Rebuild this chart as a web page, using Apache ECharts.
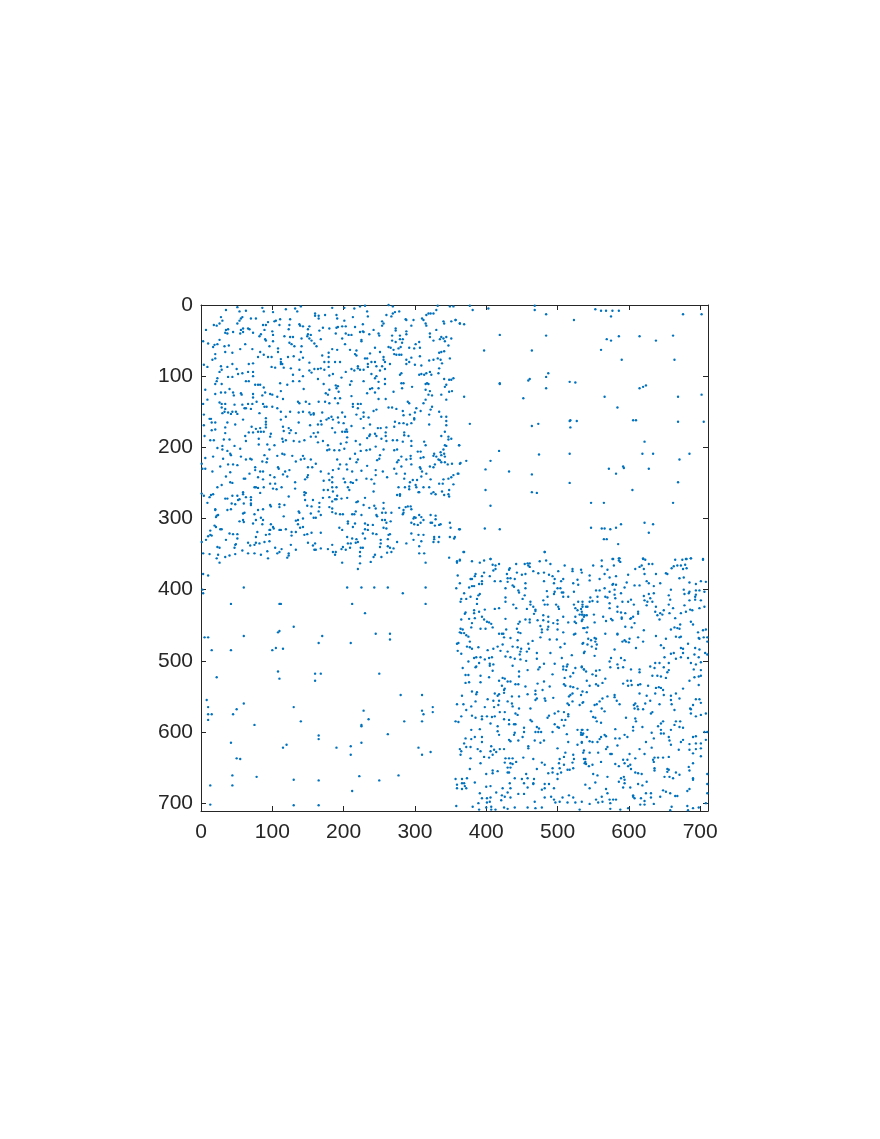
<!DOCTYPE html>
<html>
<head>
<meta charset="utf-8">
<style>
  html, body { margin: 0; padding: 0; background: #fff; }
  #chart { width: 880px; height: 1139px; }
</style>
<script src="https://cdn.jsdelivr.net/npm/echarts@6/dist/echarts.min.js"></script>
</head>
<body>
<div id="chart"></div>
<script>
// nonzero entries, [column, row]
var tickValues = [0, 100, 200, 300, 400, 500, 600, 700];

var spyTopLeftA = [[35,7],[51,3],[54,9],[63,8],[77,19],[70,19],[86,4],[88,9],[101,10],[119,6],[132,5],[135,9],[140,2],[160,12],[160,15],[165,15],[165,19],[174,14],[28,17],[30,22],[26,26],[22,29],[18,28],[7,35],[56,19],[58,17],[54,22],[51,26],[91,28],[87,28],[94,24],[103,23],[105,22],[111,20],[125,20],[110,28],[124,28],[138,27],[139,29],[143,30],[152,30],[150,34],[166,36],[171,32],[180,33],[35,35],[38,34],[37,40],[34,39],[45,38],[56,35],[59,33],[66,33],[68,34],[73,39],[59,38],[55,40],[89,35],[84,41],[82,44],[100,37],[101,42],[123,34],[150,41],[149,44],[154,42],[3,51],[10,54],[19,56],[17,59],[26,49],[23,55],[33,58],[39,57],[34,66],[44,67],[55,62],[62,55],[72,62],[90,48],[91,50],[96,58],[101,51],[108,61],[108,66],[83,66],[88,70],[80,73],[94,73],[99,73],[112,76],[112,80],[112,83],[124,53],[125,45],[129,45],[117,44],[131,58],[127,55],[141,47],[152,47],[155,50],[159,54],[162,58],[168,48],[141,58],[130,72],[140,66],[143,74],[152,81],[122,73],[170,71],[179,67],[179,73],[173,80],[179,80],[179,87],[20,69],[20,75],[16,77],[4,84],[9,87],[28,86],[29,91],[26,94],[37,87],[44,83],[38,101],[44,101],[23,103],[50,90],[52,97],[58,96],[67,83],[73,82],[66,94],[73,94],[73,100],[99,87],[104,88],[114,83],[116,88],[126,89],[138,77],[138,91],[143,100],[129,98],[152,92],[159,90],[164,90],[168,89],[173,91],[180,99],[164,104],[172,111],[155,95],[20,111],[22,107],[29,111],[40,118],[63,107],[67,107],[76,112],[80,112],[83,112],[88,116],[90,123],[112,121],[111,110],[121,112],[129,107],[138,107],[144,118],[20,125],[28,123],[34,123],[45,123],[46,127],[56,124],[57,126],[73,125],[73,130],[86,127],[97,125],[100,126],[107,129],[115,132],[6,119],[9,133],[3,139],[26,137],[29,139],[34,139],[29,144],[34,146],[47,140],[58,140],[61,145],[66,139],[78,136],[72,139],[87,139],[89,143],[100,143],[92,143],[107,145],[136,136],[138,138],[147,136],[152,139],[165,136],[175,124],[180,119],[178,126],[174,136],[180,138],[38,151],[30,152],[33,150],[44,150],[49,150],[51,153],[42,153],[70,146],[63,145],[4,154],[12,160],[14,160],[15,165],[20,165],[4,169],[82,152],[112,150],[119,157],[125,150],[137,151],[143,150],[152,151],[154,154],[158,152],[158,154],[170,151],[91,159],[91,164],[59,161],[48,168],[37,165],[34,172],[15,176],[20,175],[34,180],[71,171],[77,174],[83,173],[91,168],[91,172],[112,161],[137,165],[153,169],[164,168],[168,163],[169,168],[176,161],[179,159],[67,179],[73,179],[80,178],[84,178],[88,178],[98,181],[115,171],[116,177],[123,173],[126,176],[124,180],[133,180],[158,180],[164,179]];

var spyTopLeftB = [[184,4],[201,4],[215,5],[223,2],[230,1],[233,9],[190,14],[191,19],[213,17],[234,16],[260,14],[263,0],[269,2],[269,12],[267,16],[272,10],[278,9],[201,22],[190,32],[192,31],[198,30],[203,30],[216,31],[227,27],[242,35],[254,23],[256,26],[254,29],[287,20],[288,21],[298,21],[310,19],[312,21],[316,14],[322,12],[326,12],[315,26],[316,29],[319,12],[340,23],[341,26],[351,23],[357,21],[363,26],[349,2],[354,2],[332,1],[330,7],[203,40],[189,40],[223,38],[227,37],[228,38],[273,33],[273,36],[288,37],[295,29],[330,35],[207,42],[211,42],[236,41],[249,40],[250,43],[268,43],[279,43],[288,41],[321,40],[321,45],[326,50],[337,45],[344,45],[198,47],[225,49],[225,51],[202,55],[268,50],[279,48],[283,48],[273,52],[282,53],[306,52],[301,55],[335,48],[340,47],[342,51],[351,47],[347,57],[184,62],[191,63],[209,63],[218,64],[216,69],[218,71],[244,60],[251,66],[263,59],[266,60],[270,63],[280,59],[277,61],[292,60],[299,61],[307,60],[271,69],[274,70],[278,70],[281,70],[337,66],[341,65],[334,67],[349,75],[230,75],[233,75],[237,68],[256,73],[256,77],[258,80],[288,77],[295,74],[307,72],[292,80],[188,80],[195,80],[234,83],[234,87],[239,80],[244,80],[246,86],[254,86],[265,83],[288,83],[300,84],[309,85],[320,78],[326,77],[332,75],[336,77],[334,89],[338,82],[211,90],[215,92],[220,86],[223,91],[228,91],[220,89],[251,92],[258,90],[281,96],[279,98],[185,97],[197,102],[203,94],[239,97],[246,100],[244,103],[258,104],[316,96],[321,94],[306,98],[309,97],[313,98],[323,98],[333,96],[189,113],[192,114],[190,117],[193,122],[209,112],[211,107],[228,107],[249,108],[258,111],[281,110],[284,110],[282,117],[296,115],[315,111],[317,110],[319,111],[341,104],[348,105],[344,112],[342,115],[351,105],[354,103],[237,118],[240,117],[244,123],[233,124],[249,117],[211,128],[188,131],[195,131],[249,132],[259,132],[270,122],[290,136],[292,138],[315,119],[321,121],[319,126],[324,127],[315,133],[337,126],[344,133],[348,122],[352,121],[312,138],[192,138],[213,139],[220,139],[224,139],[213,143],[246,147],[242,149],[220,145],[263,144],[268,144],[274,146],[302,145],[308,149],[300,151],[324,143],[322,147],[283,149],[228,151],[334,150],[218,154],[228,157],[198,151],[202,157],[183,157],[192,158],[185,161],[193,165],[200,166],[224,160],[235,158],[284,155],[293,154],[299,159],[299,161],[320,154],[337,157],[344,157],[344,163],[272,164],[278,166],[284,166],[289,168],[295,166],[237,168],[211,170],[184,173],[188,179],[198,178],[202,178],[205,178],[204,175],[228,173],[248,173],[252,173],[260,172],[271,171],[320,168],[344,169],[342,178],[259,179],[285,179],[244,181],[237,182]];

var spyTopLeftC = [[5,184],[13,190],[18,190],[32,189],[40,189],[62,184],[63,191],[81,188],[81,196],[93,196],[97,185],[114,188],[115,192],[119,190],[130,191],[138,192],[145,190],[154,185],[161,185],[164,193],[171,191],[178,197],[177,204],[180,203],[23,201],[30,198],[30,203],[37,205],[47,198],[55,202],[41,209],[42,211],[6,215],[17,213],[31,216],[56,213],[63,217],[69,216],[71,217],[96,203],[103,197],[107,212],[114,209],[117,210],[128,212],[143,212],[89,211],[93,216],[86,220],[92,221],[133,220],[140,217],[145,216],[154,217],[161,223],[1,223],[2,230],[6,230],[16,234],[27,227],[38,224],[45,224],[51,225],[76,228],[76,232],[83,234],[87,234],[68,237],[41,235],[35,241],[108,228],[109,230],[124,232],[118,234],[115,238],[121,241],[150,228],[156,228],[168,234],[150,239],[149,242],[146,245],[60,244],[62,244],[80,242],[87,245],[97,239],[103,242],[97,251],[104,251],[41,249],[44,250],[23,256],[29,253],[75,256],[77,256],[80,257],[88,256],[101,258],[106,259],[113,256],[132,249],[132,258],[179,237],[180,246],[172,247],[172,260],[178,260],[1,265],[4,268],[12,270],[17,266],[14,267],[9,278],[34,272],[37,272],[44,268],[51,268],[54,273],[59,263],[59,266],[63,270],[70,270],[70,274],[70,279],[70,281],[52,274],[48,280],[60,279],[43,279],[83,264],[123,269],[145,263],[147,264],[145,267],[146,274],[157,274],[171,271],[180,270],[166,278],[20,287],[20,288],[37,288],[42,287],[61,292],[59,293],[97,281],[98,283],[110,280],[110,284],[117,281],[80,288],[87,287],[75,294],[149,282],[155,283],[166,284],[165,290],[180,284],[22,296],[24,295],[21,298],[116,297],[137,290],[138,292],[154,293],[168,295],[161,299],[158,299],[143,300],[136,302],[133,303],[59,302],[54,304],[60,305],[73,307],[77,302],[84,299],[87,302],[86,308],[98,308],[101,312],[102,314],[139,313],[143,312],[136,308],[19,310],[21,312],[13,317],[27,315],[29,315],[40,321],[45,322],[51,322],[13,323],[10,325],[15,324],[7,330],[1,333],[35,330],[51,328],[48,337],[49,336],[47,341],[79,319],[77,326],[96,316],[97,316],[91,323],[96,322],[110,316],[112,316],[119,315],[127,319],[133,319],[127,324],[145,323],[149,322],[155,320],[168,320],[96,332],[89,333],[82,335],[77,334],[75,337],[66,334],[69,338],[58,345],[126,337],[133,344],[150,334],[157,338],[160,335],[159,344],[161,344],[168,342],[178,343],[23,340],[26,341],[104,341],[113,343],[110,347],[107,349],[93,346],[3,349],[12,350],[24,351],[22,356],[34,354],[40,352],[48,350],[26,362],[66,349],[75,349],[84,351],[123,349],[123,352],[121,355],[94,356]];

var spyTopLeftD = [[205,186],[204,193],[196,195],[187,204],[194,204],[201,202],[191,217],[217,191],[223,196],[233,187],[236,184],[246,184],[253,188],[259,184],[260,191],[269,190],[275,190],[283,192],[285,183],[291,184],[295,191],[295,198],[313,192],[315,197],[337,184],[347,185],[347,189],[351,188],[362,197],[342,197],[344,198],[340,203],[336,207],[337,211],[232,204],[237,203],[245,199],[224,205],[216,209],[209,216],[204,224],[195,224],[220,217],[218,221],[247,218],[251,211],[250,216],[256,203],[271,204],[275,203],[281,213],[294,212],[294,216],[288,217],[277,218],[275,221],[271,230],[281,227],[295,224],[304,206],[308,206],[308,215],[312,214],[327,209],[330,213],[333,217],[335,218],[337,221],[326,212],[328,224],[341,209],[342,213],[342,221],[346,224],[352,223],[363,223],[185,232],[193,230],[205,231],[212,234],[225,233],[233,226],[245,232],[245,239],[255,234],[261,242],[274,237],[286,237],[285,244],[307,228],[308,230],[310,234],[309,241],[316,237],[321,227],[326,228],[184,242],[200,244],[184,249],[202,249],[210,249],[213,250],[218,246],[232,244],[239,245],[243,251],[190,256],[184,256],[185,262],[206,256],[208,260],[297,246],[293,249],[303,246],[322,245],[334,251],[339,251],[340,245],[351,242],[354,239],[361,237],[347,244],[354,252],[242,262],[277,256],[286,256],[292,255],[292,259],[301,253],[302,256],[305,263],[312,256],[320,256],[326,263],[323,265],[329,266],[338,262],[348,260],[341,267],[347,266],[348,269],[184,276],[188,273],[191,268],[190,273],[197,272],[205,271],[230,271],[218,277],[220,276],[275,267],[279,266],[279,268],[306,263],[228,281],[236,285],[243,282],[245,286],[256,278],[256,286],[184,286],[184,291],[189,293],[195,294],[199,294],[212,294],[215,294],[217,290],[225,295],[246,295],[247,297],[254,292],[259,292],[267,292],[278,285],[287,284],[290,283],[294,283],[295,287],[284,288],[284,292],[283,294],[299,298],[298,300],[301,299],[306,295],[309,298],[312,302],[308,306],[304,309],[299,308],[295,306],[322,295],[329,296],[329,301],[322,306],[324,306],[328,310],[334,309],[336,308],[349,306],[350,313],[362,315],[206,304],[206,307],[216,307],[213,312],[194,313],[198,316],[254,302],[258,302],[260,306],[266,304],[230,307],[234,309],[241,309],[230,315],[234,316],[241,321],[246,322],[256,313],[260,314],[295,321],[305,323],[312,323],[309,332],[227,321],[205,326],[212,328],[218,329],[220,333],[230,328],[217,334],[210,335],[206,335],[199,340],[197,343],[203,344],[209,341],[224,341],[227,341],[223,347],[223,353],[184,337],[185,347],[189,347],[188,351],[263,323],[265,322],[262,329],[252,330],[252,335],[251,340],[262,339],[265,341],[270,342],[267,347],[261,348],[275,333],[288,335],[298,330],[306,339],[327,326],[327,329],[334,326],[333,333],[326,333],[349,326],[356,326],[355,328],[244,351],[242,354],[238,361],[253,354],[306,349],[313,349],[198,362],[223,363],[220,371],[315,362],[348,355],[363,359],[359,362]];

var spyTopRight = [[377,1],[381,7],[403,5],[468,1],[468,7],[484,13],[553,6],[561,8],[568,8],[577,8],[586,8],[575,16],[676,13],[702,13],[523,21],[357,21],[363,26],[369,27],[419,42],[484,43],[569,48],[575,50],[586,44],[615,44],[638,50],[662,43],[397,64],[464,64],[561,63],[590,77],[664,77],[487,96],[484,101],[461,104],[459,106],[419,110],[419,111],[517,108],[525,109],[484,117],[615,117],[620,115],[624,113],[369,129],[452,131],[566,129],[669,129],[702,126],[584,144],[377,167],[464,170],[473,167],[517,163],[518,162],[527,163],[518,172],[606,162],[610,162],[669,164],[705,164],[362,197],[418,205],[474,210],[517,209],[622,192],[619,209],[634,209],[685,209],[364,222],[372,219],[406,219],[671,217],[399,231],[432,234],[464,238],[572,230],[592,227],[593,229],[582,237],[628,230],[360,237],[517,250],[669,249],[399,260],[464,263],[471,264],[605,260],[406,282],[547,278],[565,278],[662,278],[363,315],[398,314],[419,315],[547,313],[562,314],[566,314],[574,315],[582,313],[589,308],[622,306],[634,308],[628,320],[565,329],[569,329],[585,336],[369,347],[482,347],[406,357],[577,357],[586,356],[620,356],[680,357],[687,356],[704,357]];

var spyBottomLeft = [[3,378],[2,400],[3,405],[10,380],[42,420],[60,397],[110,420],[112,420],[205,397],[212,420],[225,397],[230,433],[243,397],[262,397],[283,405],[315,397],[315,420],[5,467],[10,467],[15,485],[60,465],[42,485],[100,485],[105,482],[108,460],[110,458],[115,483],[130,452],[165,475],[170,465],[210,475],[245,462],[265,462],[265,470],[22,523],[8,555],[10,565],[10,575],[10,583],[15,575],[45,575],[50,568],[60,560],[75,590],[108,515],[110,525],[160,518],[168,518],[160,528],[250,518],[130,565],[140,585],[225,590],[228,570],[235,582],[225,592],[280,548],[285,585],[310,548],[310,570],[310,585],[325,565],[325,572],[312,575],[42,615],[50,637],[115,622],[120,618],[165,605],[165,610],[190,622],[210,620],[210,632],[225,615],[262,603],[305,622],[310,632],[322,628],[13,675],[13,702],[44,661],[44,675],[55,638],[78,663],[130,667],[130,703],[165,668],[165,703],[212,683],[222,662],[250,668],[277,661]];

var spyBottomRightA = [[368,347],[359,360],[363,358],[380,360],[391,362],[397,359],[406,357],[409,365],[413,366],[418,364],[413,371],[410,373],[397,376],[394,381],[385,378],[384,381],[380,385],[378,385],[360,380],[363,391],[358,398],[376,397],[380,395],[383,395],[390,392],[394,388],[394,392],[412,388],[420,388],[405,381],[432,372],[433,370],[429,378],[430,384],[434,384],[440,385],[430,389],[442,364],[443,376],[450,379],[455,378],[454,364],[458,363],[461,363],[461,368],[459,366],[466,374],[473,377],[475,360],[482,347],[481,376],[484,359],[490,364],[488,379],[493,381],[496,385],[495,391],[501,374],[510,366],[508,385],[505,388],[481,388],[455,391],[455,398],[437,394],[439,396],[445,401],[446,404],[427,398],[454,408],[451,413],[485,402],[496,403],[500,398],[504,398],[506,404],[508,404],[508,410],[495,406],[521,371],[521,374],[533,372],[534,376],[522,391],[528,386],[529,393],[523,403],[529,417],[369,405],[365,413],[372,413],[378,410],[364,417],[387,413],[389,408],[391,406],[387,420],[427,411],[427,417],[462,417],[462,421],[466,424],[486,410],[480,415],[486,421],[482,421],[498,421],[501,424],[502,427],[515,410],[523,421],[525,426],[535,417],[535,424],[528,429],[438,421],[442,426],[457,427],[469,428],[467,434],[469,430],[371,432],[370,434],[383,429],[383,433],[390,431],[398,428],[412,427],[418,426],[384,440],[394,438],[397,442],[365,442],[376,441],[380,447],[379,453],[401,445],[404,446],[407,448],[427,441],[409,453],[392,455],[399,455],[447,445],[445,448],[455,442],[461,442],[461,446],[472,443],[480,436],[480,443],[487,438],[487,445],[494,447],[500,443],[500,448],[508,438],[515,446],[524,445],[525,438],[531,435],[534,431],[535,435],[537,438],[535,442],[526,447],[367,456],[364,455],[363,460],[365,461],[369,461],[372,464],[375,466],[418,462],[422,462],[424,462],[425,467],[428,456],[434,468],[443,455],[445,460],[448,461],[476,451],[478,456],[478,460],[486,456],[487,452],[500,456],[508,460],[523,463],[525,462],[536,454],[377,473],[361,475],[359,476],[373,480],[377,481],[380,483],[389,481],[360,486],[365,490],[444,471],[465,472],[459,476],[476,467],[489,470],[499,470],[510,476],[504,481],[460,483],[457,487],[448,487],[444,481],[437,480],[423,477],[416,480],[410,483],[402,485],[420,486],[449,483],[430,487],[471,489],[490,489],[520,492],[536,475],[383,496],[386,495],[392,495],[398,498],[375,501],[404,496],[408,495],[427,494],[434,495],[440,497],[447,491],[448,498],[456,500],[471,497],[506,496],[390,503],[386,508],[385,509],[405,504],[405,507],[410,505],[437,507],[475,509],[481,504],[496,504],[514,505],[508,508],[513,508],[508,512],[512,513],[367,510],[409,514],[458,513],[473,512],[525,510],[534,509],[537,512],[371,520],[375,520],[392,521],[404,523],[423,524],[426,525],[446,515],[446,522],[493,519],[510,524],[518,522],[522,517]];

var spyBottomRightB = [[562,359],[578,357],[587,356],[586,359],[588,361],[620,357],[623,358],[665,358],[675,358],[681,357],[687,356],[704,358],[550,366],[562,367],[579,366],[615,368],[618,366],[628,364],[633,364],[609,371],[621,371],[660,370],[663,367],[668,366],[673,366],[679,365],[681,370],[676,371],[570,372],[566,378],[545,380],[545,387],[559,385],[573,383],[582,381],[599,379],[622,378],[638,378],[652,377],[654,378],[671,384],[677,383],[625,388],[628,391],[644,391],[597,390],[582,393],[578,392],[577,393],[608,394],[615,394],[635,395],[685,390],[701,388],[708,389],[694,392],[566,398],[559,401],[554,401],[573,403],[580,400],[589,405],[594,397],[659,400],[656,408],[677,400],[685,403],[694,401],[699,401],[678,406],[684,405],[694,407],[693,410],[706,403],[621,409],[628,406],[635,405],[630,412],[622,415],[626,417],[633,417],[625,422],[546,411],[549,416],[556,410],[567,410],[570,411],[580,407],[581,412],[556,417],[545,417],[540,424],[535,421],[533,427],[542,424],[591,417],[599,417],[603,414],[573,419],[607,421],[658,414],[656,421],[678,422],[685,415],[693,414],[701,415],[584,424],[584,431],[573,426],[589,432],[595,433],[613,431],[613,434],[638,424],[637,431],[649,429],[644,433],[647,435],[640,436],[657,433],[662,426],[686,428],[689,429],[680,431],[673,433],[699,426],[706,424],[534,435],[538,436],[541,436],[551,435],[564,438],[534,444],[552,446],[575,441],[577,443],[568,444],[590,439],[590,441],[603,440],[606,438],[602,441],[608,447],[643,442],[665,440],[687,445],[690,449],[542,453],[538,454],[541,460],[567,462],[584,462],[584,463],[595,452],[604,453],[621,457],[638,465],[659,456],[664,453],[668,454],[672,449],[671,455],[666,466],[671,467],[673,466],[697,460],[708,456],[704,457],[543,469],[552,468],[554,469],[547,471],[553,473],[535,476],[542,477],[591,473],[594,471],[596,473],[601,469],[600,474],[613,467],[620,473],[652,469],[698,468],[699,469],[710,467],[710,473],[705,467],[555,477],[554,483],[548,480],[645,478],[649,482],[683,476],[538,487],[537,489],[552,493],[580,484],[610,482],[673,482],[676,483],[693,482],[699,484],[692,491],[698,495],[707,489],[710,491],[676,489],[673,495],[575,496],[573,501],[589,496],[594,499],[659,490],[663,489],[650,495],[656,503],[666,497],[683,496],[687,503],[694,505],[701,502],[534,508],[537,512],[540,515],[554,514],[559,513],[574,509],[584,505],[585,510],[592,509],[603,512],[615,512],[630,508],[637,503],[643,503],[649,509],[656,513],[654,516],[636,510],[691,512],[701,513],[549,519],[554,521],[567,525],[615,516],[633,521],[640,521],[645,522],[652,524],[692,523],[698,522],[701,521]];

var spyBottomRightC = [[371,531],[376,530],[392,530],[418,528],[422,535],[430,529],[434,529],[441,533],[445,533],[455,536],[472,532],[481,529],[489,536],[509,533],[511,535],[518,536],[522,537],[528,539],[366,549],[380,543],[387,544],[386,547],[402,554],[412,546],[418,547],[416,549],[425,541],[426,539],[425,545],[436,550],[446,550],[458,547],[469,542],[469,547],[471,553],[469,555],[479,541],[482,553],[483,556],[494,552],[516,550],[518,548],[521,546],[533,548],[536,558],[385,557],[410,556],[418,556],[417,562],[430,557],[436,560],[359,561],[368,561],[379,564],[372,569],[411,565],[398,565],[437,564],[446,567],[462,567],[514,560],[516,562],[521,557],[531,562],[365,578],[380,577],[385,580],[394,578],[394,582],[401,578],[408,579],[412,578],[419,572],[426,572],[441,574],[444,576],[501,571],[509,572],[515,575],[515,578],[496,574],[488,577],[486,580],[357,585],[361,586],[406,588],[425,582],[432,583],[432,589],[439,589],[441,589],[462,583],[464,585],[506,583],[511,583],[509,591],[496,589],[500,593],[379,597],[391,596],[416,592],[416,599],[418,604],[453,594],[453,600],[440,601],[439,604],[471,593],[474,595],[469,600],[473,600],[477,600],[493,600],[502,594],[513,603],[528,597],[534,597],[536,602],[533,604],[451,607],[371,609],[379,610],[384,607],[394,607],[394,614],[432,611],[434,613],[445,612],[468,612],[481,612],[476,615],[515,614],[534,615],[528,618],[369,616],[363,624],[365,627],[372,621],[378,621],[364,632],[388,624],[392,627],[407,620],[406,627],[411,625],[414,628],[419,624],[425,624],[459,620],[459,623],[500,623],[511,629],[536,629],[378,637],[397,635],[404,636],[409,632],[427,637],[432,637],[437,637],[452,636],[466,638],[509,635],[503,638],[522,632],[523,638],[392,644],[426,643],[434,644],[437,645],[442,642],[478,643],[482,646],[502,644],[509,646],[521,643],[537,638],[538,644],[430,650],[434,650],[377,652],[471,652],[503,651],[514,653],[517,653],[522,651],[409,654],[416,655],[430,657],[432,657],[409,658],[400,659],[493,651],[487,658],[493,657],[500,659],[505,657],[357,666],[366,666],[373,665],[384,671],[440,665],[450,666],[456,659],[458,665],[467,666],[466,672],[466,673],[500,666],[482,673],[366,672],[369,672],[370,676],[372,679],[359,674],[366,680],[400,677],[406,676],[433,672],[453,672],[458,678],[488,673],[495,679],[359,679],[391,686],[414,685],[423,679],[434,679],[478,681],[482,679],[422,689],[426,691],[430,685],[434,692],[445,687],[453,687],[394,693],[401,693],[406,692],[421,696],[482,692],[491,691],[495,695],[507,692],[516,689],[522,692],[401,699],[405,698],[389,700],[358,704],[381,705],[390,709],[400,706],[407,705],[407,709],[413,709],[425,706],[430,708],[440,706],[458,706],[468,698],[469,707],[478,706],[497,699],[503,698],[514,699],[525,699],[531,709]];

var spyBottomRightD = [[541,528],[545,535],[554,533],[563,531],[557,535],[592,532],[598,528],[603,528],[604,534],[599,535],[616,533],[613,534],[627,535],[638,538],[642,537],[645,538],[648,541],[649,548],[637,546],[676,539],[685,528],[698,534],[535,543],[541,544],[580,548],[580,551],[570,550],[563,553],[559,557],[555,561],[552,562],[535,559],[583,556],[587,561],[615,546],[625,549],[659,549],[666,546],[671,553],[660,561],[699,554],[694,554],[701,559],[690,562],[609,560],[607,562],[612,564],[613,568],[608,567],[620,568],[630,556],[623,560],[643,561],[659,555],[547,571],[562,567],[566,571],[631,574],[633,572],[664,569],[686,567],[687,574],[687,568],[708,574],[701,576],[694,578],[550,579],[553,580],[555,585],[561,587],[596,580],[609,581],[610,585],[606,593],[606,598],[619,593],[645,588],[641,592],[648,585],[672,585],[666,585],[671,593],[664,590],[676,594],[581,596],[535,597],[542,597],[533,601],[535,604],[534,614],[541,607],[566,604],[568,606],[561,607],[559,610],[545,613],[549,614],[556,614],[581,609],[587,609],[594,604],[598,607],[645,597],[645,602],[649,602],[659,597],[656,607],[657,612],[632,601],[624,614],[635,609],[690,607],[694,606],[676,611],[673,614],[694,616],[701,616],[708,611],[710,600],[706,600],[584,619],[570,621],[568,624],[557,629],[537,626],[545,629],[576,631],[574,631],[615,624],[632,622],[659,618],[670,625],[685,617],[685,625],[694,624],[701,623],[601,631],[609,637],[622,631],[636,636],[641,636],[634,639],[648,636],[656,635],[690,630],[701,634],[539,638],[539,642],[540,645],[544,648],[549,646],[561,642],[581,645],[592,639],[586,648],[594,644],[598,639],[602,646],[599,648],[603,652],[635,642],[636,651],[636,654],[690,644],[684,649],[685,654],[550,659],[556,661],[570,663],[593,663],[589,665],[586,670],[594,667],[594,672],[609,657],[613,658],[618,659],[654,652],[656,653],[654,656],[666,657],[657,663],[650,663],[662,665],[671,660],[690,665],[690,667],[710,659],[539,674],[553,671],[545,679],[568,680],[592,678],[602,678],[613,673],[619,675],[625,670],[685,680],[682,683],[710,673],[710,686],[648,682],[652,684],[658,686],[624,686],[631,686],[606,691],[608,693],[665,690],[668,690],[570,686],[562,691],[554,695],[563,698],[573,695],[578,695],[582,695],[617,693],[622,697],[631,692],[644,691],[606,689],[534,698],[545,701],[557,699],[574,700],[574,708],[588,709],[599,707],[616,702],[622,702],[635,701],[660,705],[658,710],[682,704],[683,710],[690,707],[698,706],[708,700]];

(function () {
  var ink = '#262626';
  var chart = echarts.init(document.getElementById('chart'), null, { renderer: 'canvas' });
  var points = [].concat(spyTopLeftA, spyTopLeftB, spyTopLeftC, spyTopLeftD, spyTopRight,
    spyBottomLeft, spyBottomRightA, spyBottomRightB, spyBottomRightC, spyBottomRightD);

  function tickLabel(v) { return tickValues.indexOf(v) >= 0 ? String(v) : ''; }

  function axis(labelMargin, extra) {
    var base = {
      type: 'value',
      min: 0,
      max: 711,
      interval: 100,
      axisLine: { show: true, onZero: false, lineStyle: { color: ink, width: 1 } },
      axisTick: { show: true, inside: true, length: 5, lineStyle: { color: ink, width: 1 } },
      splitLine: { show: false },
      axisLabel: {
        color: ink,
        fontFamily: '"Liberation Sans"',
        fontSize: 21,
        margin: labelMargin,
        showMaxLabel: false,
        formatter: tickLabel
      }
    };
    return Object.assign(base, extra);
  }

  chart.setOption({
    animation: false,
    backgroundColor: '#ffffff',
    grid: { left: 201, top: 305, width: 507, height: 506, containLabel: false },
    xAxis: [
      axis(11, { position: 'bottom' }),
      axis(11, { position: 'top', axisLabel: { show: false } })
    ],
    yAxis: [
      axis(8, { position: 'left', inverse: true }),
      axis(8, { position: 'right', inverse: true, axisLabel: { show: false } })
    ],
    series: [{
      type: 'scatter',
      data: points,
      symbol: 'circle',
      symbolSize: 2.4,
      itemStyle: { color: '#0072BD', opacity: 1 },
      silent: true
    }]
  });
})();
</script>
</body>
</html>
